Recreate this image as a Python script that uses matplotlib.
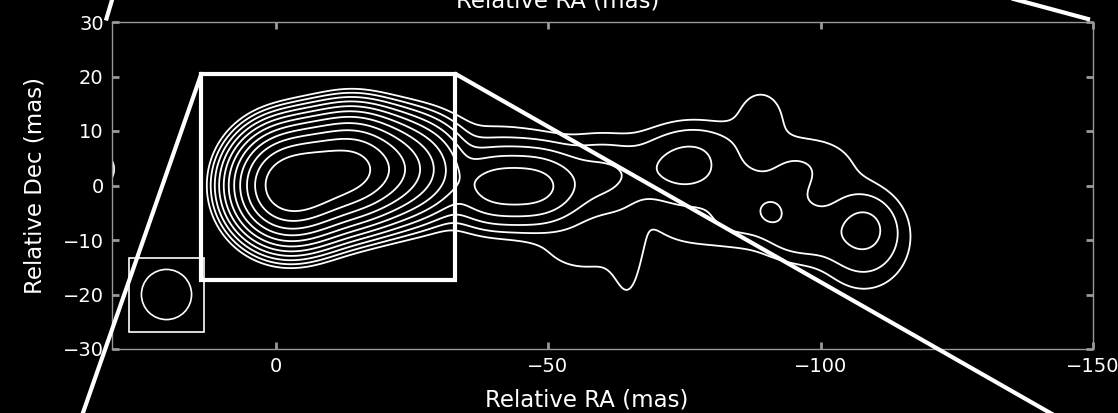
import numpy as np
import matplotlib
matplotlib.use("Agg")
import matplotlib.pyplot as plt
from matplotlib.patches import Rectangle, Ellipse, ConnectionPatch
from matplotlib.lines import Line2D

# ---- source model (Gaussian components, mas; amplitudes in units of lowest contour) ----
comp_x = [-2.5, -8.0, -14.0, -20.0, -26.0,          # core
          -40.0, -48.0, -40.0, -60.0, -57.0,         # inner jet knot
          -75.0, -64.5, -89.0, -86.0, -94.0,         # middle jet
          -80.0, -78.0,
          -91.0, -96.0, -100.0, -108.0, -108.0,      # outer jet
          33.0]                                      # edge feature
comp_y = [0.0, 1.5, 3.0, 3.0, 3.0,
          -0.2, -0.2, 3.0, 1.5, -11.5,
          3.4, -16.0, 13.0, -3.0, 0.0,
          8.0, -8.0,
          -4.8, -9.0, 4.0, -7.3, -10.0,
          3.0]
comp_amp = [1800, 1200, 1100, 250, 60,
            17.0, 17.0, 1.5, 4.0, 1.4,
            4.9, 1.0, 1.5, 2.2, 1.5,
            0.8, 1.2,
            2.3, 2.6, 1.3, 2.2, 3.0,
            2.5]
comp_sx = [3.9, 3.9, 3.9, 3.9, 4.0,
           4.5, 4.5, 10.0, 5.0, 7.0,
           6.0, 2.2, 3.6, 4.0, 4.0,
           5.0, 7.0,
           1.8, 5.0, 6.0, 3.5, 5.5,
           2.5]
comp_sy = [3.9, 3.9, 3.9, 3.9, 4.0,
           3.6, 3.6, 7.0, 4.5, 4.0,
           4.5, 6.0, 4.0, 4.5, 5.0,
           3.0, 3.5,
           1.8, 3.5, 4.5, 3.5, 6.0,
           2.5]

contour_levels = [2.0 ** k for k in range(11)]

x_ticks = [0, -50, -100, -150]
y_ticks = [-30, -20, -10, 0, 10, 20, 30]
x_limits = (30, -150)
y_limits = (-30, 30)

zoom_box = (13.6, -17.3, -33.0, 20.5)      # x_left, y_bottom, x_right, y_top
beam_box = (26.9, -26.9, 13.2, -13.3)
beam_center = (20.0, -20.0)
beam_major, beam_minor, beam_pa = 9.2, 9.2, 0.0

# ---- evaluate the model ----
gx = np.linspace(-160, 45, 1026)
gy = np.linspace(-40, 40, 401)
X, Y = np.meshgrid(gx, gy)
Z = np.zeros_like(X)
for cx, cy, a, sx, sy in zip(comp_x, comp_y, comp_amp, comp_sx, comp_sy):
    Z += a * np.exp(-0.5 * (((X - cx) / sx) ** 2 + ((Y - cy) / sy) ** 2))

W, H = 1118, 413
fig = plt.figure(figsize=(W / 100, H / 100), dpi=100, facecolor="black")
ax = fig.add_axes([112 / W, 1 - 349 / H, 981 / W, 327 / H], facecolor="black")

ax.contour(X, Y, Z, levels=contour_levels, colors="white", linewidths=1.3)

ax.set_xlim(*x_limits)
ax.set_ylim(*y_limits)
ax.set_xticks(x_ticks)
ax.set_yticks(y_ticks)
ax.set_xticklabels(["0", "\u221250", "\u2212100", "\u2212150"])
ax.set_yticklabels(["\u221230", "\u221220", "\u221210", "0", "10", "20", "30"])
ax.tick_params(direction="in", length=5, width=2, color="#999999", labelcolor="white",
               labelsize=14, top=True, right=True, pad=6)
for s in ax.spines.values():
    s.set_color("#999999")
    s.set_linewidth(1.0)

ax.set_xlabel("Relative RA (mas)", color="white", fontsize=16.5)
ax.xaxis.set_label_coords(0.484, -0.156)
ax.xaxis.label.set_va("center")
ax.set_ylabel("Relative Dec (mas)", color="white", fontsize=16.5)
ax.yaxis.set_label_coords(-0.078, 0.5)
ax.yaxis.label.set_va("center")

# zoom box
ax.add_patch(Rectangle((zoom_box[0], zoom_box[1]), zoom_box[2] - zoom_box[0],
                       zoom_box[3] - zoom_box[1], fill=False, ec="white", lw=3, zorder=5))
# beam
ax.add_patch(Rectangle((beam_box[0], beam_box[1]), beam_box[2] - beam_box[0],
                       beam_box[3] - beam_box[1], fill=False, ec="white", lw=1.2, zorder=5))
ax.add_patch(Ellipse(beam_center, beam_major, beam_minor, angle=beam_pa, fill=False,
                     ec="white", lw=1.2, zorder=5))

# connector lines
for xy, fxy in [((zoom_box[0], zoom_box[3]), (80 / W, -0.02)),
                ((zoom_box[2], zoom_box[3]), (1072 / W, -0.03))]:
    cp = ConnectionPatch(xyA=xy, coordsA=ax.transData, xyB=fxy, coordsB=fig.transFigure,
                         color="white", lw=3, zorder=10)
    fig.add_artist(cp)
fig.add_artist(Line2D([106.5 / W, 112.6 / W], [1 - 18.5 / H, 1 + 2 / H], color="white",
                      lw=3, transform=fig.transFigure))
fig.add_artist(Line2D([1088 / W, 1010 / W], [1 - 19 / H, 1 + 2 / H], color="white",
                      lw=3, transform=fig.transFigure))

fig.text(558 / W, 1 - 7 / H, "Relative RA (mas)", color="white", fontsize=16.5,
         ha="center", va="baseline")

fig.savefig("out.png", dpi=100, facecolor="black")
